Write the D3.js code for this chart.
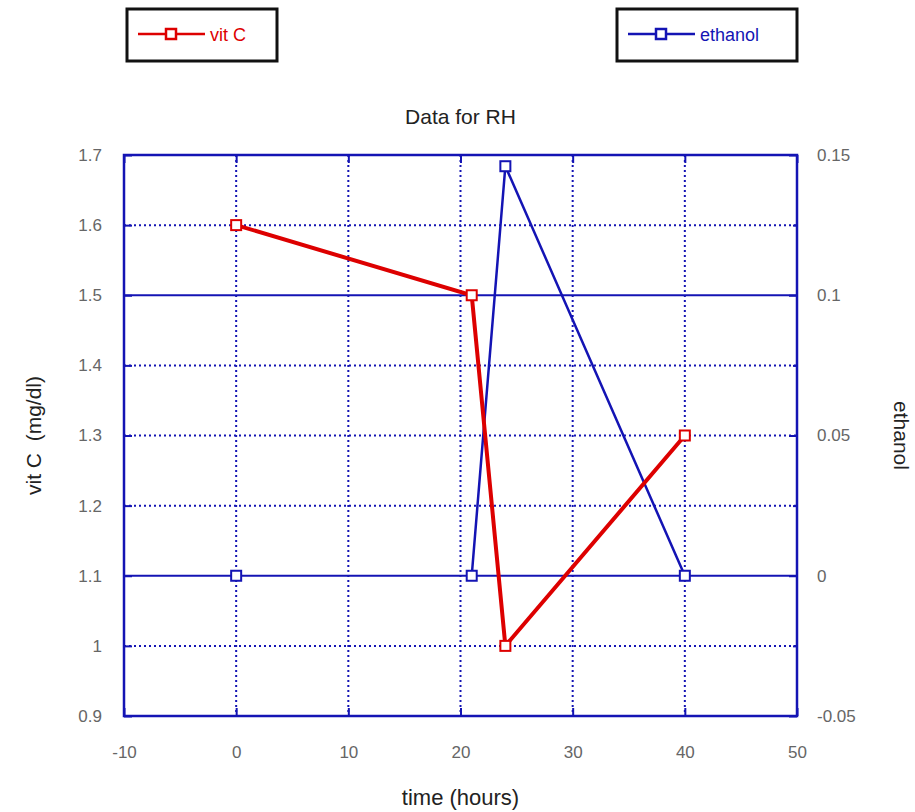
<!DOCTYPE html>
<html>
<head>
<meta charset="utf-8">
<script src="https://cdn.jsdelivr.net/npm/d3@7"></script>
<style>
    body { margin: 0; background: #fff; }
    text { font-family: "Liberation Sans", Arial, sans-serif; }
</style>
</head>
<body>
<div id="chart"></div>
<script>
// Data
const timeHours = [0, 21, 24, 40];
const vitC = [1.6, 1.5, 1.0, 1.3];
const ethanol = [0, 0, 0.146, 0];

const xTicks = [-10, 0, 10, 20, 30, 40, 50];
const yLeftTicks = [0.9, 1, 1.1, 1.2, 1.3, 1.4, 1.5, 1.6, 1.7];
const yRightTicks = [-0.05, 0, 0.05, 0.1, 0.15];
const solidLines = [1.1, 1.5];

const W = 915, H = 812;
const margin = {top: 155, right: 118, bottom: 96, left: 124};
const width = W - margin.left - margin.right;
const height = H - margin.top - margin.bottom;

const BLUE = '#1414b4';
const RED = '#dd0000';

let svg = d3.select('#chart')
    .append('svg')
    .attr('width', W)
    .attr('height', H);

let g = svg.append('g')
    .attr('transform', 'translate(' + margin.left + ',' + margin.top + ')');

// Scales
let x = d3.scaleLinear().domain([-10, 50]).range([0, width]);
let yL = d3.scaleLinear().domain([0.9, 1.7]).range([height, 0]);
let yR = d3.scaleLinear().domain([-0.05, 0.15]).range([height, 0]);

// Dotted grid
g.append('g')
    .selectAll('line')
    .data(xTicks.slice(1, -1))
    .join('line')
    .attr('x1', d => x(d)).attr('x2', d => x(d))
    .attr('y1', 0).attr('y2', height)
    .attr('stroke', BLUE)
    .attr('stroke-width', 2)
    .attr('stroke-dasharray', '2,3');

g.append('g')
    .selectAll('line')
    .data(yLeftTicks.slice(1, -1).filter(d => solidLines.indexOf(d) < 0))
    .join('line')
    .attr('x1', 0).attr('x2', width)
    .attr('y1', d => yL(d)).attr('y2', d => yL(d))
    .attr('stroke', BLUE)
    .attr('stroke-width', 2)
    .attr('stroke-dasharray', '2,3');

g.append('g')
    .selectAll('line')
    .data(solidLines)
    .join('line')
    .attr('x1', 0).attr('x2', width)
    .attr('y1', d => yL(d)).attr('y2', d => yL(d))
    .attr('stroke', BLUE)
    .attr('stroke-width', 2);

// Axes (ticks drawn inward)
function styleAxis(sel) {
    sel.select('.domain').remove();
    sel.selectAll('.tick line').attr('stroke', BLUE).attr('stroke-width', 2);
    sel.selectAll('.tick text')
        .attr('fill', '#666')
        .style('font-size', '17px');
}

g.append('g')
    .attr('transform', 'translate(0,' + height + ')')
    .call(d3.axisBottom(x).tickValues(xTicks).tickSize(-8).tickPadding(30).tickFormat(d => String(d)))
    .call(styleAxis);

g.append('g')
    .call(d3.axisTop(x).tickValues(xTicks).tickSize(-8).tickFormat(''))
    .call(styleAxis);

g.append('g')
    .call(d3.axisLeft(yL).tickValues(yLeftTicks).tickSize(-8).tickPadding(22).tickFormat(d => String(+d.toFixed(1))))
    .call(styleAxis);

let rightMinor = d3.range(-0.025, 0.15, 0.05);
g.append('g')
    .attr('transform', 'translate(' + width + ',0)')
    .call(d3.axisRight(yR).tickValues(rightMinor).tickSize(-4).tickFormat(''))
    .call(styleAxis);

g.append('g')
    .attr('transform', 'translate(' + width + ',0)')
    .call(d3.axisRight(yR).tickValues(yRightTicks).tickSize(-8).tickPadding(20).tickFormat(d => String(+d.toFixed(2))))
    .call(styleAxis);

// Frame
g.append('rect')
    .attr('width', width)
    .attr('height', height)
    .attr('fill', 'none')
    .attr('stroke', BLUE)
    .attr('stroke-width', 2.5);

// Series
let vitData = timeHours.map((t, i) => ({t: t, v: vitC[i]}));
let ethData = timeHours.map((t, i) => ({t: t, v: ethanol[i]}));

g.append('path')
    .datum(ethData.slice(1))
    .attr('fill', 'none')
    .attr('stroke', BLUE)
    .attr('stroke-width', 2.5)
    .attr('d', d3.line().x(d => x(d.t)).y(d => yR(d.v)));

g.append('path')
    .datum(vitData)
    .attr('fill', 'none')
    .attr('stroke', RED)
    .attr('stroke-width', 4)
    .attr('d', d3.line().x(d => x(d.t)).y(d => yL(d.v)));

g.append('g')
    .selectAll('rect')
    .data(ethData)
    .join('rect')
    .attr('x', d => x(d.t) - 5).attr('y', d => yR(d.v) - 5)
    .attr('width', 10).attr('height', 10)
    .attr('fill', '#fff')
    .attr('stroke', BLUE)
    .attr('stroke-width', 2);

g.append('g')
    .selectAll('rect')
    .data(vitData)
    .join('rect')
    .attr('x', d => x(d.t) - 5).attr('y', d => yL(d.v) - 5)
    .attr('width', 10).attr('height', 10)
    .attr('fill', '#fff')
    .attr('stroke', RED)
    .attr('stroke-width', 2);

// Titles
svg.append('text')
    .attr('x', margin.left + width / 2)
    .attr('y', 124)
    .attr('text-anchor', 'middle')
    .attr('fill', '#222')
    .style('font-size', '21px')
    .text('Data for RH');

svg.append('text')
    .attr('x', margin.left + width / 2)
    .attr('y', 805)
    .attr('text-anchor', 'middle')
    .attr('fill', '#222')
    .style('font-size', '22px')
    .text('time (hours)');

svg.append('text')
    .attr('transform', 'translate(41,' + (margin.top + height / 2) + ') rotate(-90)')
    .attr('text-anchor', 'middle')
    .attr('fill', '#222')
    .style('font-size', '21px')
    .attr('xml:space', 'preserve')
    .text('vit C  (mg/dl)');

svg.append('text')
    .attr('transform', 'translate(894,' + (margin.top + height / 2) + ') rotate(90)')
    .attr('text-anchor', 'middle')
    .attr('fill', '#222')
    .style('font-size', '21px')
    .text('ethanol');

// Legends
function legend(x0, w, color, label) {
    let lg = svg.append('g').attr('transform', 'translate(' + x0 + ',9)');
    lg.append('rect')
        .attr('width', w).attr('height', 52)
        .attr('fill', '#fff')
        .attr('stroke', '#111')
        .attr('stroke-width', 3);
    lg.append('line')
        .attr('x1', 11).attr('x2', 78)
        .attr('y1', 25).attr('y2', 25)
        .attr('stroke', color).attr('stroke-width', 2.5);
    lg.append('rect')
        .attr('x', 39).attr('y', 20)
        .attr('width', 10).attr('height', 10)
        .attr('fill', '#fff')
        .attr('stroke', color).attr('stroke-width', 2.5);
    lg.append('text')
        .attr('x', 83).attr('y', 32)
        .attr('fill', color)
        .style('font-size', '18px')
        .text(label);
}
legend(127, 150, RED, 'vit C');
legend(617, 180, BLUE, 'ethanol');
</script>
</body>
</html>
